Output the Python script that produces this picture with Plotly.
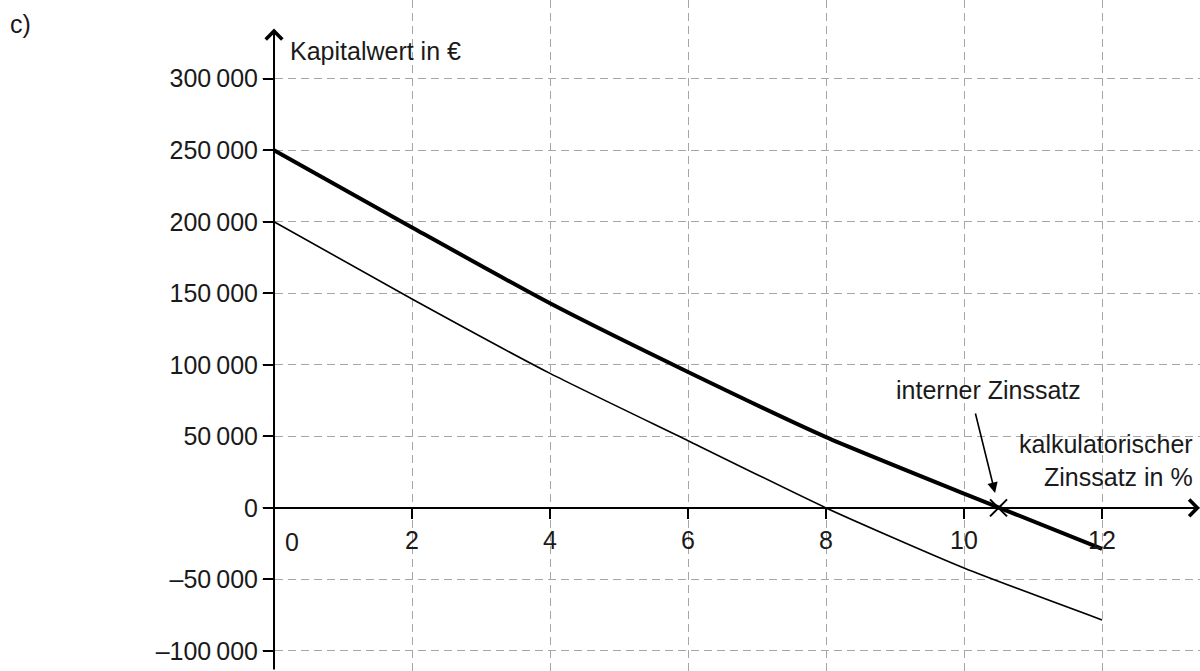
import plotly.graph_objects as go

# data
rates = [0, 2, 4, 6, 8, 10, 12]
npv_a = [250000, 196000, 143000, 95000, 49500, 10000, -28700]   # thick curve
npv_b = [200000, 146000, 94000, 47000, 0, -42000, -78300]       # thin curve
irr = 10.5

x_ticks = [2, 4, 6, 8, 10, 12]
y_ticks = [-100000, -50000, 0, 50000, 100000, 150000, 200000, 250000, 300000]
y_labels = ["\u2013100\u2009000", "\u201350\u2009000", "0", "50\u2009000", "100\u2009000",
            "150\u2009000", "200\u2009000", "250\u2009000", "300\u2009000"]

_FONT = "Liberation Sans, Arial, sans-serif"
_TXT = "#1a1a1a"
_GRID = "#a6a6a6"
_FS = 25

W, H = 1200, 671
L = 262
X_RANGE = [-0.174, 13.42]
Y_RANGE = [-114000, 355000]

fig = go.Figure()

fig.add_trace(go.Scatter(
    x=rates, y=npv_b, mode="lines",
    line=dict(color="#000000", width=1.6, shape="spline", smoothing=0.6),
    showlegend=False, hoverinfo="skip",
))
fig.add_trace(go.Scatter(
    x=rates, y=npv_a, mode="lines",
    line=dict(color="#000000", width=4, shape="spline", smoothing=0.6),
    showlegend=False, hoverinfo="skip",
))
fig.add_trace(go.Scatter(
    x=[irr], y=[0], mode="markers",
    marker=dict(symbol="x-thin", size=17, line=dict(color="#000000", width=2)),
    showlegend=False, hoverinfo="skip",
))

ann = []
# axes with arrows
ann.append(dict(x=13.42, y=0, ax=-0.16, ay=0, xref="x", yref="y", axref="x", ayref="y",
                text="", showarrow=True, arrowhead=4, arrowsize=1.6, arrowwidth=2,
                arrowcolor="#000000"))
ann.append(dict(x=0, y=335000, ax=0, ay=-114000, xref="x", yref="y", axref="x", ayref="y",
                text="", showarrow=True, arrowhead=4, arrowsize=1.6, arrowwidth=2,
                arrowcolor="#000000"))
# pointer to internal rate
ann.append(dict(x=10.45, y=10500, ax=10.16, ay=67000, xref="x", yref="y", axref="x", ayref="y",
                text="", showarrow=True, arrowhead=2, arrowsize=1.3, arrowwidth=1.6,
                arrowcolor="#000000"))
ann.append(dict(x=10.36, y=82500, xref="x", yref="y", text="interner Zinssatz",
                showarrow=False, xanchor="center", yanchor="middle"))
ann.append(dict(x=13.35, y=32900, xref="x", yref="y", text="kalkulatorischer<br>Zinssatz in %",
                showarrow=False, xanchor="right", yanchor="middle", align="right"))
ann.append(dict(x=0.2, y=319600, xref="x", yref="y", text="Kapitalwert in \u20ac",
                showarrow=False, xanchor="left", yanchor="middle"))
ann.append(dict(x=0.26, y=0, xref="x", yref="y", text="0", showarrow=False,
                xanchor="center", yanchor="top", yshift=-18))
# "c)" is positioned in pixels from the left edge of the page
ann.append(dict(x=(8 - L) / (W - L), y=1, xref="paper", yref="paper", text="c)",
                showarrow=False, xanchor="left", yanchor="top", yshift=-8))

fig.update_layout(
    width=W, height=H, autosize=False,
    margin=dict(l=L, r=0, t=0, b=0, autoexpand=False),
    paper_bgcolor="#ffffff", plot_bgcolor="#ffffff",
    font=dict(family=_FONT, size=_FS, color=_TXT),
    annotations=ann,
    xaxis=dict(
        range=X_RANGE, tickvals=x_ticks, ticktext=[str(v) for v in x_ticks],
        showgrid=True, gridcolor=_GRID, gridwidth=1, griddash="8px,5px",
        zeroline=False, showline=False, automargin=False,
        anchor="free", position=1 - 508 / H,
        ticks="outside", ticklen=10, tickwidth=2, tickcolor="#000000",
        tickfont=dict(size=_FS, family=_FONT, color=_TXT),
    ),
    yaxis=dict(
        range=Y_RANGE, tickvals=y_ticks, ticktext=y_labels,
        showgrid=True, gridcolor=_GRID, gridwidth=1, griddash="8px,5px",
        zeroline=False, showline=False, automargin=False,
        anchor="free", position=(274 - L) / (W - L),
        ticks="outside", ticklen=11, tickwidth=2, tickcolor="#000000",
        tickfont=dict(size=_FS, family=_FONT, color=_TXT),
    ),
)

# drop the default page margin so the figure sits at the window's top-left corner
fig.write_html("out.html", config={"displayModeBar": False},
               post_script="document.body.style.margin='0';")
